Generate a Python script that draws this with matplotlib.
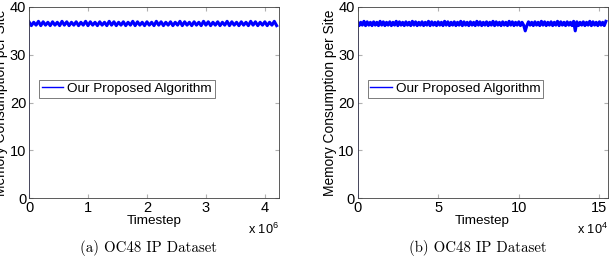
import numpy as np
import matplotlib
matplotlib.use("Agg")
from matplotlib import pyplot as plt

plt.rcParams['font.family'] = ['Liberation Sans', 'DejaVu Sans']
plt.rcParams['mathtext.fontset'] = 'custom'
plt.rcParams['mathtext.rm'] = 'Liberation Sans'

# memory per site, sampled every 40000 timesteps (panel a)
mem_a = [0,
         36.9, 36.1, 36.8, 36.2, 37.0, 36.1, 36.9, 36.2, 36.8, 36.1,
         36.9, 36.2, 36.8, 36.1, 37.0, 36.2, 36.9, 36.1, 36.8, 36.2,
         36.9, 36.1, 36.8, 36.2, 37.0, 36.1, 36.9, 36.2, 36.8, 36.1,
         36.9, 36.2, 36.8, 36.1, 37.0, 36.2, 36.9, 36.1, 36.8, 36.2,
         36.9, 36.1, 36.8, 36.2, 37.0, 36.1, 36.9, 36.2, 36.8, 36.1,
         36.9, 36.2, 36.8, 36.1, 37.0, 36.2, 36.9, 36.1, 36.8, 36.2,
         36.9, 36.1, 36.8, 36.2, 37.0, 36.1, 36.9, 36.2, 36.8, 36.1,
         36.9, 36.2, 36.8, 36.1, 37.0, 36.2, 36.9, 36.1, 36.8, 36.2,
         36.9, 36.1, 36.8, 36.2, 37.0, 36.1, 36.9, 36.2, 36.8, 36.1,
         36.9, 36.2, 36.8, 36.1, 37.0, 36.2, 36.9, 36.1, 36.8, 36.2,
         36.9, 36.1, 36.8, 36.2, 37.0, 36.1]
step_a = 40000

# memory per site, sampled every 1000 timesteps (panel b)
mem_b = [0,
         36.9, 36.1, 36.8, 36.2, 37.0, 36.1, 36.9, 36.2, 36.8, 36.1,
         36.9, 36.2, 36.8, 36.1, 37.0, 36.2, 36.9, 36.1, 36.8, 36.2,
         36.9, 36.1, 36.8, 36.2, 37.0, 36.1, 36.9, 36.2, 36.8, 36.1,
         36.9, 36.2, 36.8, 36.1, 37.0, 36.2, 36.9, 36.1, 36.8, 36.2,
         36.9, 36.1, 36.8, 36.2, 37.0, 36.1, 36.9, 36.2, 36.8, 36.1,
         36.9, 36.2, 36.8, 36.1, 37.0, 36.2, 36.9, 36.1, 36.8, 36.2,
         36.9, 36.1, 36.8, 36.2, 37.0, 36.1, 36.9, 36.2, 36.8, 36.1,
         36.9, 36.2, 36.8, 36.1, 37.0, 36.2, 36.9, 36.1, 36.8, 36.2,
         36.9, 36.1, 36.8, 36.2, 37.0, 36.1, 36.9, 36.2, 36.8, 36.1,
         36.9, 36.2, 36.8, 36.1, 37.0, 36.2, 36.9, 36.1, 36.8, 36.2,
         36.9, 36.1, 36.8, 36.2, 35.0, 36.1, 36.9, 36.2, 36.8, 36.1,
         36.9, 36.2, 36.8, 36.1, 37.0, 36.2, 36.9, 36.1, 36.8, 36.2,
         36.9, 36.1, 36.8, 36.2, 37.0, 36.1, 36.9, 36.2, 36.8, 36.1,
         36.9, 36.2, 36.8, 36.1, 37.0, 35.0, 36.9, 36.1, 36.8, 36.2,
         36.9, 36.1, 36.8, 36.2, 37.0, 36.1, 36.9, 36.2, 36.8, 36.1,
         36.9, 36.2, 36.8, 36.1, 37.0]
step_b = 1000

xlim_a = 4.24e6
xlim_b = 15.5e4
xticks_a = [0, 1, 2, 3, 4]
xticks_b = [0, 5, 10, 15]
yticks = [0, 10, 20, 30, 40]
legend_label = 'Our Proposed Algorithm'
captions = ['(a) OC48 IP Dataset', '(b) OC48 IP Dataset']

W, H = 612, 258
fig = plt.figure(figsize=(W / 100, H / 100), dpi=100)


def panel(left, mem, step, xmax, ticks, scale, exp, caption):
    ax = fig.add_axes([left / W, 60 / H, 250 / W, 191 / H])
    # first sample (0) and second sample sit at timestep 0: the jump is vertical
    x = np.concatenate([[0], np.arange(len(mem) - 1) * step])
    ax.plot(x[:2], mem[:2], color='#0000ff', lw=0.6, alpha=0.6)
    ax.plot(x[1:], mem[1:], color='#0000ff', lw=2.2, label=legend_label)
    ax.set_xlim(0, xmax)
    ax.set_ylim(0, 40)
    ax.set_xticks([t * scale for t in ticks])
    ax.set_xticklabels([str(t) for t in ticks])
    ax.set_yticks(yticks)
    ax.tick_params(direction='in', top=True, right=True, length=3,
                   color='#b0b0b0', labelsize=10.5, pad=2)
    for s in ax.spines.values():
        s.set_color('#404040')
        s.set_linewidth(0.6)
    ax.set_xlabel('Timestep', fontsize=9.7, labelpad=0)
    ax.set_ylabel('Memory Consumption per Site', fontsize=9.9, labelpad=1)
    ax.text(1.0, -0.125, r'x $\mathregular{10^{%d}}$' % exp, transform=ax.transAxes,
            ha='right', va='top', fontsize=9.2)
    leg = ax.legend(loc='upper left', bbox_to_anchor=(0.04, 0.618), fontsize=9.7,
                    frameon=True, fancybox=False, borderpad=0.2, handlelength=1.6,
                    handletextpad=0.3, borderaxespad=0)
    leg.get_lines()[0].set_linewidth(1.0)
    leg.get_frame().set_edgecolor('#404040')
    leg.get_frame().set_linewidth(0.6)
    fig.text((left + 120) / W, 10 / H, caption, ha='center', va='center',
             fontsize=10.7, family=['cmr10', 'DejaVu Serif'])
    return ax


panel(29, mem_a, step_a, xlim_a, xticks_a, 1e6, 6, captions[0])
panel(357.5, mem_b, step_b, xlim_b, xticks_b, 1e4, 4, captions[1])

fig.savefig('out.png', dpi=100)
